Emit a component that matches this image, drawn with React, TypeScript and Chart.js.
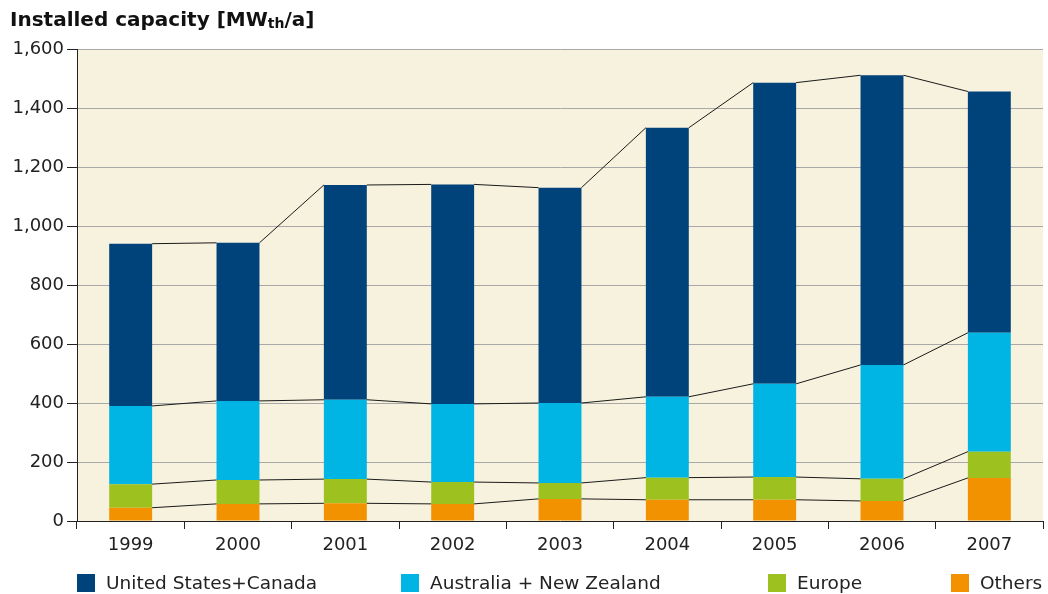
import React, { useEffect, useRef } from "react";
import { Chart, registerables } from "chart.js";

Chart.register(...registerables);

const years = ["1999", "2000", "2001", "2002", "2003", "2004", "2005", "2006", "2007"];
const others = [45, 58, 60, 58, 75, 72, 72, 68, 146];
const europe = [80, 81, 82, 74, 54, 75, 77, 75, 89];
const ausNz = [265, 268, 269, 265, 271, 274, 316, 386, 403];
const usCanada = [550, 536, 728, 744, 730, 912, 1021, 982, 818];
const yTicks = [0, 200, 400, 600, 800, 1000, 1200, 1400, 1600];

const seriesNames = ["Others", "Europe", "Australia + New Zealand", "United States+Canada"];
const seriesColors = ["#F39200", "#9DC21F", "#00B4E4", "#00437A"];

const FONT = "'DejaVu Sans', Verdana, sans-serif";

const bgPlugin = {
  id: "plotBg",
  beforeDraw(chart: any) {
    const { ctx, chartArea } = chart;
    ctx.save();
    ctx.fillStyle = "#F7F2DD";
    ctx.fillRect(chartArea.left, chartArea.top, chartArea.right - chartArea.left, chartArea.bottom - chartArea.top);
    ctx.restore();
  },
};

const seriesLinesPlugin = {
  id: "seriesLines",
  afterDatasetsDraw(chart: any) {
    const { ctx } = chart;
    ctx.save();
    ctx.strokeStyle = "#1a1a1a";
    ctx.lineWidth = 1;
    chart.data.datasets.forEach((_: any, di: number) => {
      const meta = chart.getDatasetMeta(di);
      const els = meta.data;
      for (let i = 0; i < els.length - 1; i++) {
        const a = els[i];
        const b = els[i + 1];
        ctx.beginPath();
        ctx.moveTo(a.x + a.width / 2, a.y);
        ctx.lineTo(b.x - b.width / 2, b.y);
        ctx.stroke();
      }
    });
    ctx.restore();
  },
};

export default function App() {
  const ref = useRef<HTMLCanvasElement | null>(null);

  useEffect(() => {
    if (!ref.current) return;
    const values = [others, europe, ausNz, usCanada];
    const chart = new Chart(ref.current, {
      type: "bar",
      data: {
        labels: years,
        datasets: values.map((v, i) => ({
          label: seriesNames[i],
          data: v,
          backgroundColor: seriesColors[i],
          borderWidth: 0,
          barPercentage: 0.4,
          categoryPercentage: 1,
        })),
      },
      options: {
        responsive: false,
        animation: false,
        layout: { padding: { top: 49, right: 5, left: 0, bottom: 0 } },
        plugins: {
          legend: { display: false },
          tooltip: { enabled: false },
          title: { display: false },
        },
        scales: {
          x: {
            stacked: true,
            grid: {
              drawOnChartArea: false,
              drawTicks: true,
              tickLength: 8,
              tickColor: "#222",
              offset: true,
            },
            border: { color: "#222", width: 1 },
            ticks: {
              color: "#222",
              font: { family: FONT, size: 18 },
              padding: 6,
              maxRotation: 0,
            },
            afterFit(scale: any) {
              scale.height = 73;
            },
          },
          y: {
            stacked: true,
            min: 0,
            max: 1600,
            afterBuildTicks(scale: any) {
              scale.ticks = yTicks.map((v) => ({ value: v }));
            },
            grid: {
              color: "#A8A8A8",
              lineWidth: 1,
              tickLength: 10,
              tickColor: "#222",
            },
            border: { color: "#222", width: 1 },
            ticks: {
              color: "#222",
              font: { family: FONT, size: 18 },
              padding: 3,
              callback: (v: any) => Number(v).toLocaleString("en-US"),
            },
            afterFit(scale: any) {
              scale.width = 77;
            },
          },
        },
      },
      plugins: [bgPlugin, seriesLinesPlugin],
    });
    return () => chart.destroy();
  }, []);

  const legendItems = [
    { name: seriesNames[3], color: seriesColors[3], x: 77 },
    { name: seriesNames[2], color: seriesColors[2], x: 401 },
    { name: seriesNames[1], color: seriesColors[1], x: 768 },
    { name: seriesNames[0], color: seriesColors[0], x: 951 },
  ];

  return (
    <div style={{ position: "absolute", left: 0, top: 0, width: 1048, height: 594, background: "#fff", overflow: "hidden" }}>
      <canvas ref={ref} width={1048} height={594} style={{ display: "block", width: 1048, height: 594 }} />
      <div
        style={{
          position: "absolute",
          left: 10,
          top: 7,
          font: `bold 20px ${FONT}`,
          lineHeight: "24px",
          color: "#111",
          whiteSpace: "nowrap",
        }}
      >
        Installed capacity [MW<span style={{ fontSize: 14, verticalAlign: "-2px" }}>th</span>/a]
      </div>
      {legendItems.map((it) => (
        <div
          key={it.name}
          style={{
            position: "absolute",
            left: it.x,
            top: 573,
            height: 20,
            display: "flex",
            alignItems: "center",
            whiteSpace: "nowrap",
          }}
        >
          <div style={{ width: 18, height: 18, background: it.color, marginRight: 11 }} />
          <span style={{ font: `18.5px ${FONT}`, color: "#222", lineHeight: "20px" }}>{it.name}</span>
        </div>
      ))}
    </div>
  );
}
